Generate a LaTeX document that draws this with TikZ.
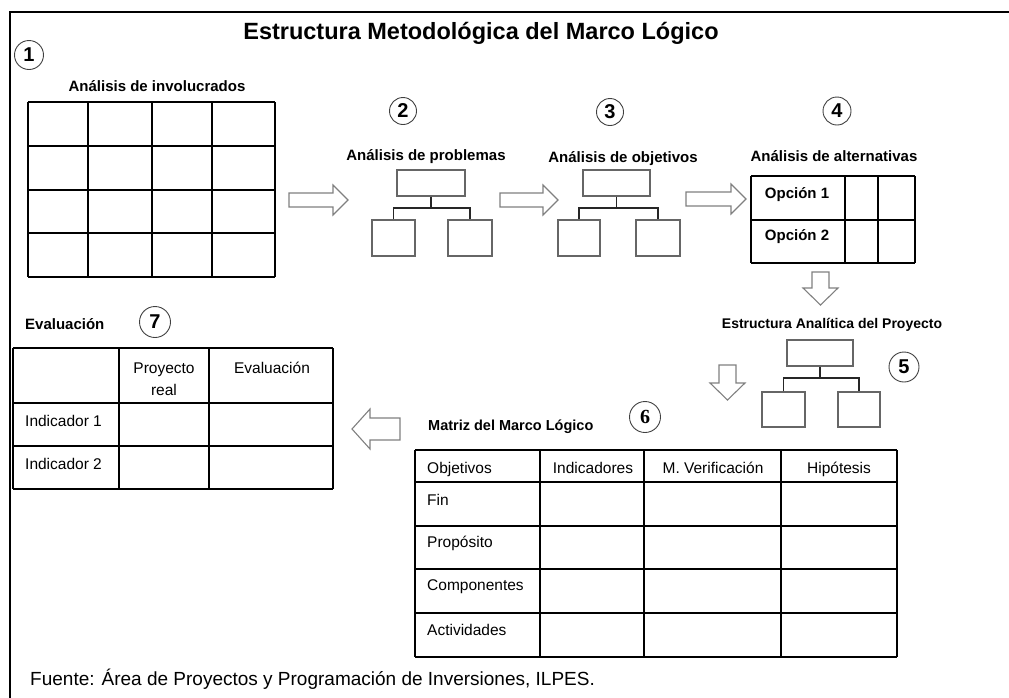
\documentclass[tikz,border=0pt]{standalone}
\usepackage{fontspec}
\setmainfont{Liberation Sans}
\newfontfamily\serifb{Liberation Serif}
\tikzset{
  frameline/.style={line width=1.8pt},
  tbl/.style={line width=1.4pt},
  tbox/.style={draw=black!60, line width=1.2pt},
  tlink/.style={line width=1.2pt, draw=black!85},
  blockarrow/.style={draw=black!50, line width=1.1pt, fill=white, line join=miter},
  num/.style={circle, draw=black!75, line width=0.9pt, minimum size=27pt,
    inner sep=0pt, font=\bfseries\fontsize{20}{20}\selectfont},
  lbl/.style={font=\bfseries\fontsize{15}{15}\selectfont, inner sep=0pt, anchor=base},
  txt/.style={font=\fontsize{15.5}{15.5}\selectfont, inner sep=0pt, anchor=base},
}
\begin{document}
\begin{tikzpicture}[x=1pt,y=-1pt]
\useasboundingbox (0,0) rectangle (1009,697);
% frame
\draw[frameline] (1012,12) -- (10,12) -- (10,700);
% title
\node[lbl, font=\bfseries\fontsize{23.5}{23.5}\selectfont] (title) at (481,39) {Estructura Metodológica del Marco Lógico};

% ---- 1: Analisis de involucrados
\node[num, minimum size=29pt] (n1) at (29,55) {1};
\node[lbl] (l1) at (157,91) {Análisis de involucrados};
\foreach \x in {28,88,152,212,275} \draw[tbl] (\x,102) -- (\x,277);
\foreach \y in {102,146,190,233,277} \draw[tbl] (28,\y) -- (275,\y);

% ---- 2: Analisis de problemas
\node[num] (n2) at (403,111) {2};
\node[lbl] (l2) at (426,160) {Análisis de problemas};
\node[tbox, minimum width=68pt, minimum height=26pt, inner sep=0pt] (p0) at (431,183) {};
\node[tbox, minimum width=43pt, minimum height=36pt, inner sep=0pt] (p1) at (393.5,238) {};
\node[tbox, minimum width=44pt, minimum height=36pt, inner sep=0pt] (p2) at (470,238) {};
\draw[tlink] (p0.south) -- (431,208) coordinate (pb);
\draw[tlink] (p1.north) |- (pb) -| (p2.north);

% ---- 3: Analisis de objetivos
\node[num] (n3) at (610,112) {3};
\node[lbl] (l3) at (623,162) {Análisis de objetivos};
\node[tbox, minimum width=67pt, minimum height=26pt, inner sep=0pt] (o0) at (616.5,183) {};
\node[tbox, minimum width=42pt, minimum height=36pt, inner sep=0pt] (o1) at (579,238) {};
\node[tbox, minimum width=44pt, minimum height=36pt, inner sep=0pt] (o2) at (658,238) {};
\draw[tlink] (o0.south) -- (616.5,208) coordinate (ob);
\draw[tlink] (o1.north) |- (ob) -| (o2.north);

% ---- 4: Analisis de alternativas
\node[num, minimum size=28pt] (n4) at (837,111) {4};
\node[lbl] (l4) at (834,161) {Análisis de alternativas};
\foreach \x in {751,845,878,915} \draw[tbl] (\x,176) -- (\x,263);
\foreach \y in {176,220,263} \draw[tbl] (751,\y) -- (915,\y);
\node[lbl] (op1) at (797,198) {Opción 1};
\node[lbl] (op2) at (797,240) {Opción 2};

% ---- 5: Estructura Analitica del Proyecto
\node[lbl, font=\bfseries\fontsize{14}{14}\selectfont] (l5) at (832,328) {Estructura Analítica del Proyecto};
\node[num, minimum size=30pt] (n5) at (904,367) {5};
\node[tbox, minimum width=66pt, minimum height=26pt, inner sep=0pt] (e0) at (820,353) {};
\node[tbox, minimum width=43pt, minimum height=35pt, inner sep=0pt] (e1) at (783.5,409.5) {};
\node[tbox, minimum width=42pt, minimum height=35pt, inner sep=0pt] (e2) at (859,409.5) {};
\draw[tlink] (e0.south) -- (820,378) coordinate (eb);
\draw[tlink] (e1.north) |- (eb) -| (e2.north);

% ---- 6: Matriz del Marco Logico
\node[lbl, font=\bfseries\fontsize{14.5}{14.5}\selectfont, anchor=base west] (l6) at (428,430) {Matriz del Marco Lógico};
\node[num, minimum size=31pt, font=\serifb\bfseries\fontsize{20}{20}\selectfont] (n6) at (645,417) {6};
\foreach \x in {415,540,644,781,897} \draw[tbl] (\x,450) -- (\x,657);
\foreach \y in {450,482,526,569,613,657} \draw[tbl] (415,\y) -- (897,\y);
\node[txt, anchor=base west] (m0) at (427,473) {Objetivos};
\node[txt] (m1) at (593,473) {Indicadores};
\node[txt] (m2) at (713,473) {M. Verificación};
\node[txt] (m3) at (839,473) {Hipótesis};
\node[txt, anchor=base west] (r1) at (427,505) {Fin};
\node[txt, anchor=base west] (r2) at (427,547) {Propósito};
\node[txt, anchor=base west] (r3) at (427,590) {Componentes};
\node[txt, anchor=base west] (r4) at (427,635) {Actividades};

% ---- 7: Evaluacion
\node[lbl, anchor=base west] (l7) at (25,329) {Evaluación};
\node[num, minimum size=31pt] (n7) at (155,322) {7};
\foreach \x in {13,119,209,333} \draw[tbl] (\x,348) -- (\x,489);
\foreach \y in {348,403,446,489} \draw[tbl] (13,\y) -- (333,\y);
\node[txt] (h1) at (164,373) {Proyecto};
\node[txt] (h1b) at (164,395) {real};
\node[txt] (h2) at (272,373) {Evaluación};
\node[txt, anchor=base west] (i1) at (25,426) {Indicador 1};
\node[txt, anchor=base west] (i2) at (25,469) {Indicador 2};

% ---- block arrows
% right arrows
\draw[blockarrow] (289,193) -- (333,193) -- (333,185) -- (348,200) -- (333,215) -- (333,207) -- (289,207) -- cycle;
\draw[blockarrow] (500,193) -- (543,193) -- (543,185) -- (558,200) -- (543,215) -- (543,207) -- (500,207) -- cycle;
\draw[blockarrow] (686,192) -- (731,192) -- (731,184) -- (746,199) -- (731,214) -- (731,206) -- (686,206) -- cycle;
% down arrows
\draw[blockarrow] (812,272) -- (812,288) -- (803,288) -- (820.5,305) -- (838,288) -- (829,288) -- (829,272) -- cycle;
\draw[blockarrow] (719,365) -- (719,383) -- (710,383) -- (727.5,400) -- (745,383) -- (736,383) -- (736,365) -- cycle;
% left arrow
\draw[blockarrow] (400,418) -- (370,418) -- (370,409) -- (352,429) -- (370,449) -- (370,440) -- (400,440) -- cycle;

% footer
\node[txt, font=\fontsize{19}{19}\selectfont, anchor=base west] (src) at (30,685) {Fuente: Área de Proyectos y Programación de Inversiones, ILPES.};
\end{tikzpicture}
\end{document}
